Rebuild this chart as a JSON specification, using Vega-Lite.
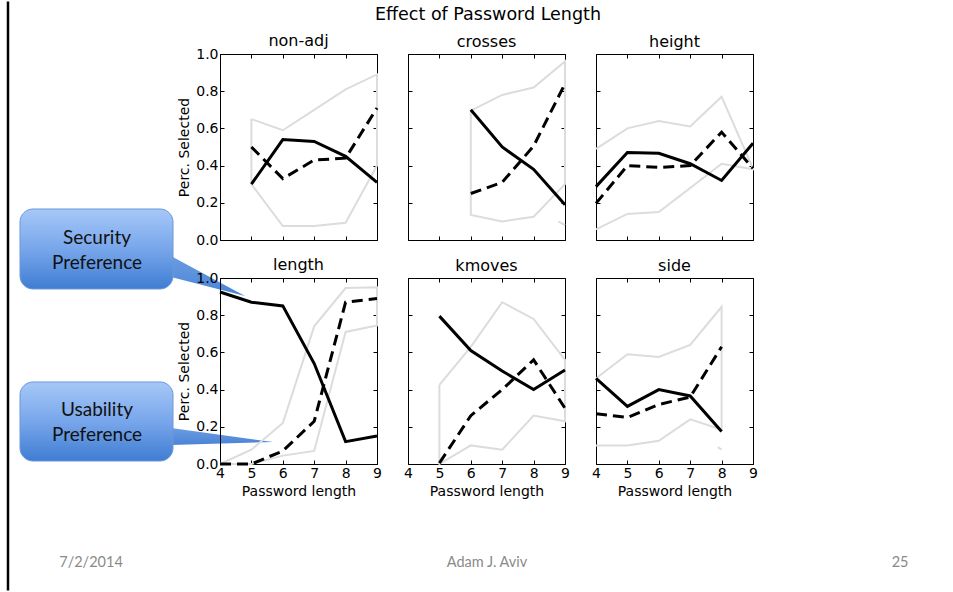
{
  "$schema": "https://vega.github.io/schema/vega-lite/v6.json",
  "background": "white",
  "padding": {"left": 6, "top": 0, "right": 0, "bottom": 0},
  "autosize": {"type": "pad"},
  "datasets": {
    "series": [
      {"panel":"non-adj","series":"security","part":"m","i":0,"x":5,"y":0.30},
      {"panel":"non-adj","series":"security","part":"m","i":1,"x":6,"y":0.54},
      {"panel":"non-adj","series":"security","part":"m","i":2,"x":7,"y":0.53},
      {"panel":"non-adj","series":"security","part":"m","i":3,"x":8,"y":0.45},
      {"panel":"non-adj","series":"security","part":"m","i":4,"x":9,"y":0.31},
      {"panel":"non-adj","series":"usability","part":"m","i":0,"x":5,"y":0.50},
      {"panel":"non-adj","series":"usability","part":"m","i":1,"x":6,"y":0.33},
      {"panel":"non-adj","series":"usability","part":"m","i":2,"x":7,"y":0.43},
      {"panel":"non-adj","series":"usability","part":"m","i":3,"x":8,"y":0.44},
      {"panel":"non-adj","series":"usability","part":"m","i":4,"x":9,"y":0.71},
      {"panel":"non-adj","series":"ci","part":"a","i":0,"x":5,"y":0.65},
      {"panel":"non-adj","series":"ci","part":"a","i":1,"x":6,"y":0.59},
      {"panel":"non-adj","series":"ci","part":"a","i":2,"x":7,"y":0.70},
      {"panel":"non-adj","series":"ci","part":"a","i":3,"x":8,"y":0.81},
      {"panel":"non-adj","series":"ci","part":"a","i":4,"x":9,"y":0.89},
      {"panel":"non-adj","series":"ci","part":"a","i":5,"x":9,"y":0.40},
      {"panel":"non-adj","series":"ci","part":"a","i":6,"x":8,"y":0.093},
      {"panel":"non-adj","series":"ci","part":"a","i":7,"x":7,"y":0.075},
      {"panel":"non-adj","series":"ci","part":"a","i":8,"x":6,"y":0.075},
      {"panel":"non-adj","series":"ci","part":"a","i":9,"x":5,"y":0.30},
      {"panel":"non-adj","series":"ci","part":"a","i":10,"x":5,"y":0.65},

      {"panel":"crosses","series":"security","part":"m","i":0,"x":6,"y":0.70},
      {"panel":"crosses","series":"security","part":"m","i":1,"x":7,"y":0.50},
      {"panel":"crosses","series":"security","part":"m","i":2,"x":8,"y":0.38},
      {"panel":"crosses","series":"security","part":"m","i":3,"x":9,"y":0.19},
      {"panel":"crosses","series":"usability","part":"m","i":0,"x":6,"y":0.25},
      {"panel":"crosses","series":"usability","part":"m","i":1,"x":7,"y":0.31},
      {"panel":"crosses","series":"usability","part":"m","i":2,"x":8,"y":0.505},
      {"panel":"crosses","series":"usability","part":"m","i":3,"x":9,"y":0.84},
      {"panel":"crosses","series":"ci","part":"a","i":0,"x":6,"y":0.695},
      {"panel":"crosses","series":"ci","part":"a","i":1,"x":7,"y":0.78},
      {"panel":"crosses","series":"ci","part":"a","i":2,"x":8,"y":0.82},
      {"panel":"crosses","series":"ci","part":"a","i":3,"x":9,"y":0.96},
      {"panel":"crosses","series":"ci","part":"a","i":4,"x":9,"y":0.30},
      {"panel":"crosses","series":"ci","part":"a","i":5,"x":8,"y":0.125},
      {"panel":"crosses","series":"ci","part":"a","i":6,"x":7,"y":0.10},
      {"panel":"crosses","series":"ci","part":"a","i":7,"x":6,"y":0.135},
      {"panel":"crosses","series":"ci","part":"a","i":8,"x":6,"y":0.695},
      {"panel":"crosses","series":"ci","part":"b","i":0,"x":8.79,"y":0.10},
      {"panel":"crosses","series":"ci","part":"b","i":1,"x":9,"y":0.08},

      {"panel":"height","series":"security","part":"m","i":0,"x":4,"y":0.287},
      {"panel":"height","series":"security","part":"m","i":1,"x":5,"y":0.47},
      {"panel":"height","series":"security","part":"m","i":2,"x":6,"y":0.466},
      {"panel":"height","series":"security","part":"m","i":3,"x":7,"y":0.41},
      {"panel":"height","series":"security","part":"m","i":4,"x":8,"y":0.32},
      {"panel":"height","series":"security","part":"m","i":5,"x":9,"y":0.52},
      {"panel":"height","series":"usability","part":"m","i":0,"x":4,"y":0.197},
      {"panel":"height","series":"usability","part":"m","i":1,"x":5,"y":0.40},
      {"panel":"height","series":"usability","part":"m","i":2,"x":6,"y":0.39},
      {"panel":"height","series":"usability","part":"m","i":3,"x":7,"y":0.40},
      {"panel":"height","series":"usability","part":"m","i":4,"x":8,"y":0.58},
      {"panel":"height","series":"usability","part":"m","i":5,"x":9,"y":0.385},
      {"panel":"height","series":"ci","part":"a","i":0,"x":4,"y":0.49},
      {"panel":"height","series":"ci","part":"a","i":1,"x":5,"y":0.60},
      {"panel":"height","series":"ci","part":"a","i":2,"x":6,"y":0.64},
      {"panel":"height","series":"ci","part":"a","i":3,"x":7,"y":0.61},
      {"panel":"height","series":"ci","part":"a","i":4,"x":8,"y":0.77},
      {"panel":"height","series":"ci","part":"a","i":5,"x":9,"y":0.385},
      {"panel":"height","series":"ci","part":"a","i":6,"x":9,"y":0.38},
      {"panel":"height","series":"ci","part":"a","i":7,"x":8,"y":0.41},
      {"panel":"height","series":"ci","part":"a","i":8,"x":7,"y":0.28},
      {"panel":"height","series":"ci","part":"a","i":9,"x":6,"y":0.15},
      {"panel":"height","series":"ci","part":"a","i":10,"x":5,"y":0.14},
      {"panel":"height","series":"ci","part":"a","i":11,"x":4,"y":0.057},

      {"panel":"length","series":"security","part":"m","i":0,"x":4,"y":0.925},
      {"panel":"length","series":"security","part":"m","i":1,"x":5,"y":0.87},
      {"panel":"length","series":"security","part":"m","i":2,"x":6,"y":0.85},
      {"panel":"length","series":"security","part":"m","i":3,"x":7,"y":0.54},
      {"panel":"length","series":"security","part":"m","i":4,"x":8,"y":0.12},
      {"panel":"length","series":"security","part":"m","i":5,"x":9,"y":0.15},
      {"panel":"length","series":"usability","part":"m","i":0,"x":4,"y":0.0},
      {"panel":"length","series":"usability","part":"m","i":1,"x":5,"y":0.0},
      {"panel":"length","series":"usability","part":"m","i":2,"x":6,"y":0.07},
      {"panel":"length","series":"usability","part":"m","i":3,"x":7,"y":0.23},
      {"panel":"length","series":"usability","part":"m","i":4,"x":8,"y":0.87},
      {"panel":"length","series":"usability","part":"m","i":5,"x":9,"y":0.89},
      {"panel":"length","series":"ci","part":"a","i":0,"x":4,"y":0.0},
      {"panel":"length","series":"ci","part":"a","i":1,"x":5,"y":0.077},
      {"panel":"length","series":"ci","part":"a","i":2,"x":6,"y":0.22},
      {"panel":"length","series":"ci","part":"a","i":3,"x":7,"y":0.74},
      {"panel":"length","series":"ci","part":"a","i":4,"x":8,"y":0.946},
      {"panel":"length","series":"ci","part":"a","i":5,"x":9,"y":0.95},
      {"panel":"length","series":"ci","part":"a","i":6,"x":9,"y":0.745},
      {"panel":"length","series":"ci","part":"a","i":7,"x":8,"y":0.71},
      {"panel":"length","series":"ci","part":"a","i":8,"x":7,"y":0.07},
      {"panel":"length","series":"ci","part":"a","i":9,"x":6,"y":0.045},
      {"panel":"length","series":"ci","part":"a","i":10,"x":5,"y":0.0},
      {"panel":"length","series":"ci","part":"a","i":11,"x":4,"y":0.0},

      {"panel":"kmoves","series":"security","part":"m","i":0,"x":5,"y":0.795},
      {"panel":"kmoves","series":"security","part":"m","i":1,"x":6,"y":0.61},
      {"panel":"kmoves","series":"security","part":"m","i":2,"x":7,"y":0.50},
      {"panel":"kmoves","series":"security","part":"m","i":3,"x":8,"y":0.40},
      {"panel":"kmoves","series":"security","part":"m","i":4,"x":9,"y":0.505},
      {"panel":"kmoves","series":"usability","part":"m","i":0,"x":5,"y":0.005},
      {"panel":"kmoves","series":"usability","part":"m","i":1,"x":6,"y":0.26},
      {"panel":"kmoves","series":"usability","part":"m","i":2,"x":7,"y":0.40},
      {"panel":"kmoves","series":"usability","part":"m","i":3,"x":8,"y":0.56},
      {"panel":"kmoves","series":"usability","part":"m","i":4,"x":9,"y":0.30},
      {"panel":"kmoves","series":"ci","part":"a","i":0,"x":5,"y":0.425},
      {"panel":"kmoves","series":"ci","part":"a","i":1,"x":6,"y":0.63},
      {"panel":"kmoves","series":"ci","part":"a","i":2,"x":7,"y":0.87},
      {"panel":"kmoves","series":"ci","part":"a","i":3,"x":8,"y":0.78},
      {"panel":"kmoves","series":"ci","part":"a","i":4,"x":9,"y":0.56},
      {"panel":"kmoves","series":"ci","part":"a","i":5,"x":9,"y":0.23},
      {"panel":"kmoves","series":"ci","part":"a","i":6,"x":8,"y":0.26},
      {"panel":"kmoves","series":"ci","part":"a","i":7,"x":7,"y":0.077},
      {"panel":"kmoves","series":"ci","part":"a","i":8,"x":6,"y":0.10},
      {"panel":"kmoves","series":"ci","part":"a","i":9,"x":5,"y":0.0},
      {"panel":"kmoves","series":"ci","part":"a","i":10,"x":5,"y":0.425},

      {"panel":"side","series":"security","part":"m","i":0,"x":4,"y":0.46},
      {"panel":"side","series":"security","part":"m","i":1,"x":5,"y":0.31},
      {"panel":"side","series":"security","part":"m","i":2,"x":6,"y":0.40},
      {"panel":"side","series":"security","part":"m","i":3,"x":7,"y":0.366},
      {"panel":"side","series":"security","part":"m","i":4,"x":8,"y":0.175},
      {"panel":"side","series":"usability","part":"m","i":0,"x":4,"y":0.27},
      {"panel":"side","series":"usability","part":"m","i":1,"x":5,"y":0.25},
      {"panel":"side","series":"usability","part":"m","i":2,"x":6,"y":0.32},
      {"panel":"side","series":"usability","part":"m","i":3,"x":7,"y":0.36},
      {"panel":"side","series":"usability","part":"m","i":4,"x":8,"y":0.63},
      {"panel":"side","series":"ci","part":"a","i":0,"x":4,"y":0.46},
      {"panel":"side","series":"ci","part":"a","i":1,"x":5,"y":0.59},
      {"panel":"side","series":"ci","part":"a","i":2,"x":6,"y":0.575},
      {"panel":"side","series":"ci","part":"a","i":3,"x":7,"y":0.64},
      {"panel":"side","series":"ci","part":"a","i":4,"x":8,"y":0.845},
      {"panel":"side","series":"ci","part":"a","i":5,"x":8,"y":0.185},
      {"panel":"side","series":"ci","part":"a","i":6,"x":7,"y":0.24},
      {"panel":"side","series":"ci","part":"a","i":7,"x":6,"y":0.125},
      {"panel":"side","series":"ci","part":"a","i":8,"x":5,"y":0.10},
      {"panel":"side","series":"ci","part":"a","i":9,"x":4,"y":0.10},
      {"panel":"side","series":"ci","part":"b","i":0,"x":7.88,"y":0.091},
      {"panel":"side","series":"ci","part":"b","i":1,"x":8,"y":0.077}
    ],
    "frame": [{"x": -0.1529, "y": 2.4866, "y2": -0.6801}],
    "boxes": [
      {"id": "security", "x": -0.0764, "x2": 0.8981, "y": 1.371, "y2": 0.941},
      {"id": "usability", "x": -0.0764, "x2": 0.8981, "y": 0.441, "y2": 0.016}
    ],
    "pointers": [
      {"id": "security", "x": 0.8854, "y": 1.118, "y2": 1.005},
      {"id": "security", "x": 1.3567, "y": 0.903, "y2": 0.903},
      {"id": "usability", "x": 0.8854, "y": 0.194, "y2": 0.102},
      {"id": "usability", "x": 1.535, "y": 0.118, "y2": 0.118}
    ],
    "labels": [
      {"kind": "callout", "text": "Security", "x": 0.414, "y": 1.215},
      {"kind": "callout", "text": "Preference", "x": 0.414, "y": 1.081},
      {"kind": "callout", "text": "Usability", "x": 0.414, "y": 0.290},
      {"kind": "callout", "text": "Preference", "x": 0.414, "y": 0.156},
      {"kind": "footer", "text": "7/2/2014", "x": 0.3758, "y": -0.532},
      {"kind": "footer", "text": "Adam J. Aviv", "x": 2.898, "y": -0.532},
      {"kind": "footer", "text": "25", "x": 5.529, "y": -0.532},
      {"kind": "title", "text": "Effect of Password Length", "x": 2.9045, "y": 2.414}
    ]
  },
  "columns": 4,
  "spacing": {"row": 38, "column": 31},
  "bounds": "flush",
  "concat": [
    {
      "width": 157, "height": 186,
      "view": {"stroke": null},
      "data": {"values": []},
      "mark": {"type": "point", "opacity": 0}
    },
    {
      "title": {"text": "non-adj", "offset": -2},
      "width": 157, "height": 186,
      "layer": [
        {"data": {"name": "series"}, "transform": [{"filter": "datum.panel === 'non-adj' && datum.series === 'ci'"}],
         "mark": {"type": "line", "stroke": "#dcdcdc", "strokeWidth": 2},
         "encoding": {
           "x": {"field": "x", "type": "quantitative", "scale": {"domain": [4, 9], "nice": false, "zero": false}, "axis": {"orient": "bottom", "values": [4,5,6,7,8,9], "labels": false, "title": null}},
           "y": {"field": "y", "type": "quantitative", "scale": {"domain": [0, 1], "nice": false, "zero": false}, "axis": {"orient": "left", "values": [0,0.2,0.4,0.6,0.8,1], "format": ".1f", "title": "Perc. Selected"}},
           "detail": {"field": "part", "type": "nominal"}, "order": {"field": "i", "type": "quantitative"}}},
        {"data": {"name": "series"}, "transform": [{"filter": "datum.panel === 'non-adj' && datum.series === 'security'"}],
         "mark": {"type": "line", "stroke": "black", "strokeWidth": 3},
         "encoding": {
           "x": {"field": "x", "type": "quantitative", "scale": {"domain": [4, 9], "nice": false, "zero": false}, "axis": null},
           "y": {"field": "y", "type": "quantitative", "scale": {"domain": [0, 1], "nice": false, "zero": false}, "axis": null},
           "order": {"field": "i", "type": "quantitative"}}},
        {"data": {"name": "series"}, "transform": [{"filter": "datum.panel === 'non-adj' && datum.series === 'usability'"}],
         "mark": {"type": "line", "stroke": "black", "strokeWidth": 3, "strokeDash": [11, 6]},
         "encoding": {
           "x": {"field": "x", "type": "quantitative", "scale": {"domain": [4, 9], "nice": false, "zero": false}, "axis": null},
           "y": {"field": "y", "type": "quantitative", "scale": {"domain": [0, 1], "nice": false, "zero": false}, "axis": null},
           "order": {"field": "i", "type": "quantitative"}}},
        {"data": {"name": "series"}, "transform": [{"filter": "datum.panel === 'non-adj'"}],
         "mark": {"type": "point", "opacity": 0},
         "encoding": {
           "x": {"field": "x", "type": "quantitative", "scale": {"domain": [4, 9], "nice": false, "zero": false}, "axis": {"orient": "top", "values": [4,5,6,7,8,9], "labels": false, "title": null}},
           "y": {"field": "y", "type": "quantitative", "scale": {"domain": [0, 1], "nice": false, "zero": false}, "axis": {"orient": "right", "values": [0,0.2,0.4,0.6,0.8,1], "labels": false, "title": null}}}}
      ],
      "resolve": {"axis": {"x": "independent", "y": "independent"}}
    },
    {
      "title": "crosses",
      "width": 157, "height": 186,
      "layer": [
        {"data": {"name": "series"}, "transform": [{"filter": "datum.panel === 'crosses' && datum.series === 'ci'"}],
         "mark": {"type": "line", "stroke": "#dcdcdc", "strokeWidth": 2},
         "encoding": {
           "x": {"field": "x", "type": "quantitative", "scale": {"domain": [4, 9], "nice": false, "zero": false}, "axis": {"orient": "bottom", "values": [4,5,6,7,8,9], "labels": false, "title": null}},
           "y": {"field": "y", "type": "quantitative", "scale": {"domain": [0, 1], "nice": false, "zero": false}, "axis": {"orient": "left", "values": [0,0.2,0.4,0.6,0.8,1], "labels": false, "title": null}},
           "detail": {"field": "part", "type": "nominal"}, "order": {"field": "i", "type": "quantitative"}}},
        {"data": {"name": "series"}, "transform": [{"filter": "datum.panel === 'crosses' && datum.series === 'security'"}],
         "mark": {"type": "line", "stroke": "black", "strokeWidth": 3},
         "encoding": {
           "x": {"field": "x", "type": "quantitative", "scale": {"domain": [4, 9], "nice": false, "zero": false}, "axis": null},
           "y": {"field": "y", "type": "quantitative", "scale": {"domain": [0, 1], "nice": false, "zero": false}, "axis": null},
           "order": {"field": "i", "type": "quantitative"}}},
        {"data": {"name": "series"}, "transform": [{"filter": "datum.panel === 'crosses' && datum.series === 'usability'"}],
         "mark": {"type": "line", "stroke": "black", "strokeWidth": 3, "strokeDash": [11, 6]},
         "encoding": {
           "x": {"field": "x", "type": "quantitative", "scale": {"domain": [4, 9], "nice": false, "zero": false}, "axis": null},
           "y": {"field": "y", "type": "quantitative", "scale": {"domain": [0, 1], "nice": false, "zero": false}, "axis": null},
           "order": {"field": "i", "type": "quantitative"}}},
        {"data": {"name": "series"}, "transform": [{"filter": "datum.panel === 'crosses'"}],
         "mark": {"type": "point", "opacity": 0},
         "encoding": {
           "x": {"field": "x", "type": "quantitative", "scale": {"domain": [4, 9], "nice": false, "zero": false}, "axis": {"orient": "top", "values": [4,5,6,7,8,9], "labels": false, "title": null}},
           "y": {"field": "y", "type": "quantitative", "scale": {"domain": [0, 1], "nice": false, "zero": false}, "axis": {"orient": "right", "values": [0,0.2,0.4,0.6,0.8,1], "labels": false, "title": null}}}}
      ],
      "resolve": {"axis": {"x": "independent", "y": "independent"}}
    },
    {
      "title": "height",
      "width": 157, "height": 186,
      "layer": [
        {"data": {"name": "series"}, "transform": [{"filter": "datum.panel === 'height' && datum.series === 'ci'"}],
         "mark": {"type": "line", "stroke": "#dcdcdc", "strokeWidth": 2},
         "encoding": {
           "x": {"field": "x", "type": "quantitative", "scale": {"domain": [4, 9], "nice": false, "zero": false}, "axis": {"orient": "bottom", "values": [4,5,6,7,8,9], "labels": false, "title": null}},
           "y": {"field": "y", "type": "quantitative", "scale": {"domain": [0, 1], "nice": false, "zero": false}, "axis": {"orient": "left", "values": [0,0.2,0.4,0.6,0.8,1], "labels": false, "title": null}},
           "detail": {"field": "part", "type": "nominal"}, "order": {"field": "i", "type": "quantitative"}}},
        {"data": {"name": "series"}, "transform": [{"filter": "datum.panel === 'height' && datum.series === 'security'"}],
         "mark": {"type": "line", "stroke": "black", "strokeWidth": 3},
         "encoding": {
           "x": {"field": "x", "type": "quantitative", "scale": {"domain": [4, 9], "nice": false, "zero": false}, "axis": null},
           "y": {"field": "y", "type": "quantitative", "scale": {"domain": [0, 1], "nice": false, "zero": false}, "axis": null},
           "order": {"field": "i", "type": "quantitative"}}},
        {"data": {"name": "series"}, "transform": [{"filter": "datum.panel === 'height' && datum.series === 'usability'"}],
         "mark": {"type": "line", "stroke": "black", "strokeWidth": 3, "strokeDash": [11, 6]},
         "encoding": {
           "x": {"field": "x", "type": "quantitative", "scale": {"domain": [4, 9], "nice": false, "zero": false}, "axis": null},
           "y": {"field": "y", "type": "quantitative", "scale": {"domain": [0, 1], "nice": false, "zero": false}, "axis": null},
           "order": {"field": "i", "type": "quantitative"}}},
        {"data": {"name": "series"}, "transform": [{"filter": "datum.panel === 'height'"}],
         "mark": {"type": "point", "opacity": 0},
         "encoding": {
           "x": {"field": "x", "type": "quantitative", "scale": {"domain": [4, 9], "nice": false, "zero": false}, "axis": {"orient": "top", "values": [4,5,6,7,8,9], "labels": false, "title": null}},
           "y": {"field": "y", "type": "quantitative", "scale": {"domain": [0, 1], "nice": false, "zero": false}, "axis": {"orient": "right", "values": [0,0.2,0.4,0.6,0.8,1], "labels": false, "title": null}}}}
      ],
      "resolve": {"axis": {"x": "independent", "y": "independent"}}
    },
    {
      "width": 157, "height": 186,
      "view": {"stroke": null},
      "layer": [
        {"data": {"name": "frame"},
         "mark": {"type": "rule", "stroke": "black", "strokeWidth": 2.5},
         "encoding": {
           "x": {"field": "x", "type": "quantitative", "scale": {"domain": [0, 1], "nice": false, "zero": false}, "axis": null},
           "y": {"field": "y", "type": "quantitative", "scale": {"domain": [0, 1], "nice": false, "zero": false}, "axis": null},
           "y2": {"field": "y2"}}},
        {"data": {"name": "pointers"},
         "mark": {"type": "area", "fill": {"gradient": "linear", "x1": 0, "y1": 0, "x2": 0, "y2": 1, "stops": [{"offset": 0, "color": "#6b9ce2"}, {"offset": 1, "color": "#4a84d6"}]}},
         "encoding": {
           "x": {"field": "x", "type": "quantitative", "scale": {"domain": [0, 1], "nice": false, "zero": false}, "axis": null},
           "y": {"field": "y", "type": "quantitative", "scale": {"domain": [0, 1], "nice": false, "zero": false}, "axis": null},
           "y2": {"field": "y2"},
           "detail": {"field": "id", "type": "nominal"}}},
        {"data": {"name": "boxes"},
         "mark": {"type": "rect", "cornerRadius": 13, "stroke": "#6a98d8", "strokeWidth": 1, "fill": {"gradient": "linear", "x1": 0, "y1": 0, "x2": 0, "y2": 1, "stops": [{"offset": 0, "color": "#a6c8f7"}, {"offset": 0.5, "color": "#78a6eb"}, {"offset": 1, "color": "#3f7dd2"}]}},
         "encoding": {
           "x": {"field": "x", "type": "quantitative", "scale": {"domain": [0, 1], "nice": false, "zero": false}, "axis": null},
           "x2": {"field": "x2"},
           "y": {"field": "y", "type": "quantitative", "scale": {"domain": [0, 1], "nice": false, "zero": false}, "axis": null},
           "y2": {"field": "y2"}}},
        {"data": {"name": "labels"}, "transform": [{"filter": "datum.kind === 'callout'"}],
         "mark": {"type": "text", "font": "Lato", "fontSize": 19, "color": "#111111", "align": "center", "baseline": "middle"},
         "encoding": {
           "x": {"field": "x", "type": "quantitative", "scale": {"domain": [0, 1], "nice": false, "zero": false}, "axis": null},
           "y": {"field": "y", "type": "quantitative", "scale": {"domain": [0, 1], "nice": false, "zero": false}, "axis": null},
           "text": {"field": "text"}}},
        {"data": {"name": "labels"}, "transform": [{"filter": "datum.kind === 'footer'"}],
         "mark": {"type": "text", "font": "Lato", "fontSize": 14.5, "color": "#8a8a8a", "align": "center", "baseline": "middle"},
         "encoding": {
           "x": {"field": "x", "type": "quantitative", "scale": {"domain": [0, 1], "nice": false, "zero": false}, "axis": null},
           "y": {"field": "y", "type": "quantitative", "scale": {"domain": [0, 1], "nice": false, "zero": false}, "axis": null},
           "text": {"field": "text"}}},
        {"data": {"name": "labels"}, "transform": [{"filter": "datum.kind === 'title'"}],
         "mark": {"type": "text", "font": "DejaVu Sans", "fontSize": 17.5, "color": "black", "align": "center", "baseline": "middle"},
         "encoding": {
           "x": {"field": "x", "type": "quantitative", "scale": {"domain": [0, 1], "nice": false, "zero": false}, "axis": null},
           "y": {"field": "y", "type": "quantitative", "scale": {"domain": [0, 1], "nice": false, "zero": false}, "axis": null},
           "text": {"field": "text"}}}
      ]
    },
    {
      "title": {"text": "length", "offset": -2},
      "width": 157, "height": 186,
      "layer": [
        {"data": {"name": "series"}, "transform": [{"filter": "datum.panel === 'length' && datum.series === 'ci'"}],
         "mark": {"type": "line", "stroke": "#dcdcdc", "strokeWidth": 2},
         "encoding": {
           "x": {"field": "x", "type": "quantitative", "scale": {"domain": [4, 9], "nice": false, "zero": false}, "axis": {"orient": "bottom", "values": [4,5,6,7,8,9], "format": "d", "title": "Password length"}},
           "y": {"field": "y", "type": "quantitative", "scale": {"domain": [0, 1], "nice": false, "zero": false}, "axis": {"orient": "left", "values": [0,0.2,0.4,0.6,0.8,1], "format": ".1f", "title": "Perc. Selected"}},
           "detail": {"field": "part", "type": "nominal"}, "order": {"field": "i", "type": "quantitative"}}},
        {"data": {"name": "series"}, "transform": [{"filter": "datum.panel === 'length' && datum.series === 'security'"}],
         "mark": {"type": "line", "stroke": "black", "strokeWidth": 3},
         "encoding": {
           "x": {"field": "x", "type": "quantitative", "scale": {"domain": [4, 9], "nice": false, "zero": false}, "axis": null},
           "y": {"field": "y", "type": "quantitative", "scale": {"domain": [0, 1], "nice": false, "zero": false}, "axis": null},
           "order": {"field": "i", "type": "quantitative"}}},
        {"data": {"name": "series"}, "transform": [{"filter": "datum.panel === 'length' && datum.series === 'usability'"}],
         "mark": {"type": "line", "stroke": "black", "strokeWidth": 3, "strokeDash": [11, 6]},
         "encoding": {
           "x": {"field": "x", "type": "quantitative", "scale": {"domain": [4, 9], "nice": false, "zero": false}, "axis": null},
           "y": {"field": "y", "type": "quantitative", "scale": {"domain": [0, 1], "nice": false, "zero": false}, "axis": null},
           "order": {"field": "i", "type": "quantitative"}}},
        {"data": {"name": "series"}, "transform": [{"filter": "datum.panel === 'length'"}],
         "mark": {"type": "point", "opacity": 0},
         "encoding": {
           "x": {"field": "x", "type": "quantitative", "scale": {"domain": [4, 9], "nice": false, "zero": false}, "axis": {"orient": "top", "values": [4,5,6,7,8,9], "labels": false, "title": null}},
           "y": {"field": "y", "type": "quantitative", "scale": {"domain": [0, 1], "nice": false, "zero": false}, "axis": {"orient": "right", "values": [0,0.2,0.4,0.6,0.8,1], "labels": false, "title": null}}}}
      ],
      "resolve": {"axis": {"x": "independent", "y": "independent"}}
    },
    {
      "title": "kmoves",
      "width": 157, "height": 186,
      "layer": [
        {"data": {"name": "series"}, "transform": [{"filter": "datum.panel === 'kmoves' && datum.series === 'ci'"}],
         "mark": {"type": "line", "stroke": "#dcdcdc", "strokeWidth": 2},
         "encoding": {
           "x": {"field": "x", "type": "quantitative", "scale": {"domain": [4, 9], "nice": false, "zero": false}, "axis": {"orient": "bottom", "values": [4,5,6,7,8,9], "format": "d", "title": "Password length"}},
           "y": {"field": "y", "type": "quantitative", "scale": {"domain": [0, 1], "nice": false, "zero": false}, "axis": {"orient": "left", "values": [0,0.2,0.4,0.6,0.8,1], "labels": false, "title": null}},
           "detail": {"field": "part", "type": "nominal"}, "order": {"field": "i", "type": "quantitative"}}},
        {"data": {"name": "series"}, "transform": [{"filter": "datum.panel === 'kmoves' && datum.series === 'security'"}],
         "mark": {"type": "line", "stroke": "black", "strokeWidth": 3},
         "encoding": {
           "x": {"field": "x", "type": "quantitative", "scale": {"domain": [4, 9], "nice": false, "zero": false}, "axis": null},
           "y": {"field": "y", "type": "quantitative", "scale": {"domain": [0, 1], "nice": false, "zero": false}, "axis": null},
           "order": {"field": "i", "type": "quantitative"}}},
        {"data": {"name": "series"}, "transform": [{"filter": "datum.panel === 'kmoves' && datum.series === 'usability'"}],
         "mark": {"type": "line", "stroke": "black", "strokeWidth": 3, "strokeDash": [11, 6]},
         "encoding": {
           "x": {"field": "x", "type": "quantitative", "scale": {"domain": [4, 9], "nice": false, "zero": false}, "axis": null},
           "y": {"field": "y", "type": "quantitative", "scale": {"domain": [0, 1], "nice": false, "zero": false}, "axis": null},
           "order": {"field": "i", "type": "quantitative"}}},
        {"data": {"name": "series"}, "transform": [{"filter": "datum.panel === 'kmoves'"}],
         "mark": {"type": "point", "opacity": 0},
         "encoding": {
           "x": {"field": "x", "type": "quantitative", "scale": {"domain": [4, 9], "nice": false, "zero": false}, "axis": {"orient": "top", "values": [4,5,6,7,8,9], "labels": false, "title": null}},
           "y": {"field": "y", "type": "quantitative", "scale": {"domain": [0, 1], "nice": false, "zero": false}, "axis": {"orient": "right", "values": [0,0.2,0.4,0.6,0.8,1], "labels": false, "title": null}}}}
      ],
      "resolve": {"axis": {"x": "independent", "y": "independent"}}
    },
    {
      "title": "side",
      "width": 157, "height": 186,
      "layer": [
        {"data": {"name": "series"}, "transform": [{"filter": "datum.panel === 'side' && datum.series === 'ci'"}],
         "mark": {"type": "line", "stroke": "#dcdcdc", "strokeWidth": 2},
         "encoding": {
           "x": {"field": "x", "type": "quantitative", "scale": {"domain": [4, 9], "nice": false, "zero": false}, "axis": {"orient": "bottom", "values": [4,5,6,7,8,9], "format": "d", "title": "Password length"}},
           "y": {"field": "y", "type": "quantitative", "scale": {"domain": [0, 1], "nice": false, "zero": false}, "axis": {"orient": "left", "values": [0,0.2,0.4,0.6,0.8,1], "labels": false, "title": null}},
           "detail": {"field": "part", "type": "nominal"}, "order": {"field": "i", "type": "quantitative"}}},
        {"data": {"name": "series"}, "transform": [{"filter": "datum.panel === 'side' && datum.series === 'security'"}],
         "mark": {"type": "line", "stroke": "black", "strokeWidth": 3},
         "encoding": {
           "x": {"field": "x", "type": "quantitative", "scale": {"domain": [4, 9], "nice": false, "zero": false}, "axis": null},
           "y": {"field": "y", "type": "quantitative", "scale": {"domain": [0, 1], "nice": false, "zero": false}, "axis": null},
           "order": {"field": "i", "type": "quantitative"}}},
        {"data": {"name": "series"}, "transform": [{"filter": "datum.panel === 'side' && datum.series === 'usability'"}],
         "mark": {"type": "line", "stroke": "black", "strokeWidth": 3, "strokeDash": [11, 6]},
         "encoding": {
           "x": {"field": "x", "type": "quantitative", "scale": {"domain": [4, 9], "nice": false, "zero": false}, "axis": null},
           "y": {"field": "y", "type": "quantitative", "scale": {"domain": [0, 1], "nice": false, "zero": false}, "axis": null},
           "order": {"field": "i", "type": "quantitative"}}},
        {"data": {"name": "series"}, "transform": [{"filter": "datum.panel === 'side'"}],
         "mark": {"type": "point", "opacity": 0},
         "encoding": {
           "x": {"field": "x", "type": "quantitative", "scale": {"domain": [4, 9], "nice": false, "zero": false}, "axis": {"orient": "top", "values": [4,5,6,7,8,9], "labels": false, "title": null}},
           "y": {"field": "y", "type": "quantitative", "scale": {"domain": [0, 1], "nice": false, "zero": false}, "axis": {"orient": "right", "values": [0,0.2,0.4,0.6,0.8,1], "labels": false, "title": null}}}}
      ],
      "resolve": {"axis": {"x": "independent", "y": "independent"}}
    }
  ],
  "config": {
    "font": "DejaVu Sans",
    "view": {"stroke": "black", "strokeWidth": 1},
    "axis": {
      "domain": false, "grid": false, "ticks": true, "tickSize": -4, "tickColor": "black", "tickWidth": 1,
      "labelFont": "DejaVu Sans", "labelFontSize": 14, "labelColor": "black", "labelPadding": 6,
      "labelFlush": false, "labelOverlap": false,
      "titleFont": "DejaVu Sans", "titleFontSize": 14, "titleFontWeight": "normal", "titleColor": "black", "titlePadding": 4
    },
    "title": {"font": "DejaVu Sans", "fontSize": 16, "fontWeight": "normal", "color": "black", "offset": 4, "anchor": "middle", "frame": "group"}
  }
}
